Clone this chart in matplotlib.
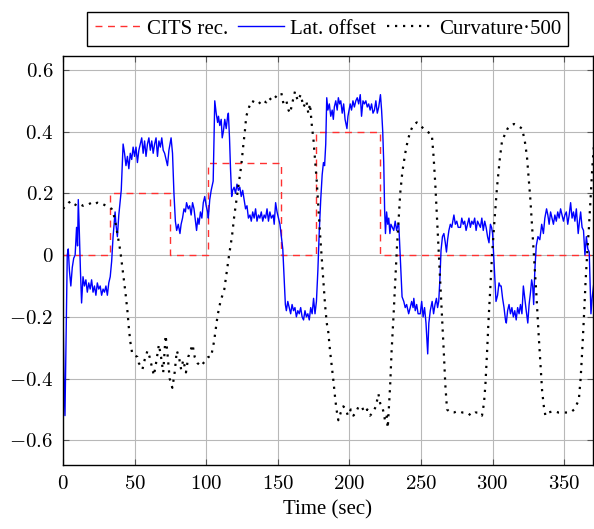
import numpy as np
import matplotlib
matplotlib.use('Agg')
import matplotlib.pyplot as plt

plt.rcParams['font.family'] = ['Liberation Serif', 'DejaVu Serif']
plt.rcParams['mathtext.fontset'] = 'cm'

# CITS recommendation (step signal)
cits_t = [0, 32.5, 32.5, 74.7, 74.7, 101.5, 101.5, 152, 152, 177, 177, 221.4, 221.4, 372]
cits_v = [0, 0, 0.2, 0.2, 0, 0, 0.3, 0.3, 0, 0, 0.4, 0.4, 0, 0]

# lateral offset
lat_t = [0, 0.7, 1.4, 2.2, 3.0, 3.7, 4.5, 5.5, 6.5, 7.5, 8.5, 9.5, 10.2, 10.7, 11.4, 12.2, 13,
         14, 15, 16, 17, 18, 19, 20, 21, 22, 23, 24, 25, 26, 27, 28, 29, 30, 31, 32, 33, 34, 35,
         36.4, 37, 38, 39, 40.7, 42, 43, 44, 45, 46, 47, 48, 49, 50, 51, 52, 53, 54, 55, 56, 57,
         58, 59, 60, 61, 62, 63, 64, 65, 66, 67, 68, 69, 70, 71, 72, 73, 74, 75.5, 76.5, 77.5,
         78.5, 79.4, 80.5, 81.7, 82.5, 83.5, 84.5, 85.5, 86.3, 87.5, 88.5, 89.5, 90.5, 91.5,
         92.5, 93.3, 94.2, 95, 96, 97, 98, 99, 100, 101, 101.5, 102.5, 103.5, 104.9, 106, 107,
         108, 108.6, 109.5, 110.5, 111.2, 112, 113, 114, 115, 115.5, 116.3, 117, 117.8, 118.5,
         119.5, 120.5, 121.5, 122.5, 123.5, 124.5, 125.5, 126.5, 127.5, 128.5, 129.5, 130.6,
         131.5, 132.5, 133.5, 134.5, 135.5, 136.5, 137.5, 138.5, 139.5, 140.5, 141.5, 142.5,
         143.5, 144.5, 145.5, 146.8, 147.5, 148.5, 149.5, 150.5, 151.5, 152.5, 153.5, 154.5,
         155.3, 156, 157, 158, 159, 160, 161, 162, 163, 164, 165, 166, 167, 168, 169, 170, 171,
         172, 173, 174, 175, 176, 177, 178, 179, 180, 181, 181.9, 182.7, 183.5, 184.2, 185,
         186, 187, 188, 188.8, 189.5, 190.5, 191.5, 192.3, 193.2, 194, 195, 196, 197, 198.3,
         199, 199.8, 200.6, 201.5, 202.5, 203.5, 204.5, 205.5, 206.5, 207.6, 208.5, 209.5,
         210.5, 211.5, 212.5, 213.5, 214.5, 215.5, 216.5, 217.5, 218.5, 219.5, 220.5, 221.7,
         222.5, 223.3, 224, 224.6, 225.2, 226, 226.8, 227.5, 228.3, 229, 230, 231, 232, 233,
         234, 234.5, 235.5, 236.8, 238, 239, 240, 241.4, 242.5, 243.5, 244.5, 245, 246, 247,
         248, 249.5, 250.5, 251.5, 252.5, 253.5, 254.7, 255.5, 256.5, 257.8, 258.8, 259.8,
         260.8, 261.6, 262.4, 263.2, 264, 265, 266, 267, 267.8, 268.6, 269.5, 270.5, 271.5,
         273, 274, 275, 276, 277.6, 278.5, 279.5, 280.5, 281.5, 282.5, 283.5, 284.5, 285.5,
         286.5, 287.5, 288.5, 289.5, 290.5, 291.5, 292.5, 293.5, 294.5, 295.5, 296.5, 297.5,
         298.5, 299.3, 300, 301, 302.4, 303.5, 304.5, 305.3, 306, 307, 308, 309, 309.6, 310.5,
         311.5, 312.5, 313.5, 314.5, 315.5, 316.5, 317.5, 318.5, 319.5, 320.5, 321.5, 322.5,
         323.5, 324.6, 325.5, 326.5, 327.3, 328, 328.7, 329.5, 330.5, 331.7, 333, 334.3, 335.5,
         336.5, 337.7, 338.6, 339.5, 340.5, 341.5, 342.5, 343.5, 344.5, 345.5, 346.5, 347.5,
         348.5, 349.5, 350.5, 351.5, 352.5, 353.5, 354.5, 355.5, 356.5, 357.5, 358.5, 359.8,
         360.7, 361.5, 362.5, 363.5, 364.5, 365.5, 366.5, 367.5, 368.7, 369.5, 371]
lat_v = [-0.15, -0.40, -0.52, -0.25, 0.0, 0.02, -0.05, -0.10, -0.04, -0.01, 0.0, 0.09, 0.03, 0.18,
         0.08, -0.05, -0.155, -0.07, -0.10, -0.08, -0.12, -0.09, -0.11, -0.08, -0.12, -0.10,
         -0.13, -0.09, -0.11, -0.10, -0.13, -0.11, -0.12, -0.10, -0.13, -0.09, -0.07, -0.02,
         0.06, 0.14, 0.10, 0.06, 0.13, 0.21, 0.36, 0.33, 0.29, 0.32, 0.28, 0.33, 0.31, 0.35,
         0.32, 0.35, 0.30, 0.34, 0.36, 0.38, 0.33, 0.37, 0.32, 0.36, 0.38, 0.34, 0.37, 0.33,
         0.36, 0.38, 0.32, 0.37, 0.35, 0.38, 0.34, 0.33, 0.31, 0.29, 0.34, 0.38, 0.33, 0.20,
         0.11, 0.08, 0.10, 0.07, 0.10, 0.12, 0.15, 0.14, 0.17, 0.15, 0.16, 0.13, 0.17, 0.15,
         0.11, 0.08, 0.12, 0.10, 0.14, 0.12, 0.17, 0.19, 0.16, 0.14, 0.12, 0.18, 0.21, 0.24,
         0.50, 0.46, 0.43, 0.45, 0.42, 0.44, 0.38, 0.40, 0.44, 0.41, 0.45, 0.46, 0.38, 0.28,
         0.19, 0.21, 0.22, 0.20, 0.23, 0.21, 0.22, 0.19, 0.21, 0.18, 0.15, 0.16, 0.12, 0.13,
         0.11, 0.14, 0.12, 0.15, 0.11, 0.13, 0.12, 0.14, 0.11, 0.13, 0.12, 0.15, 0.11, 0.14,
         0.12, 0.13, 0.10, 0.17, 0.14, 0.12, 0.10, 0.06, 0.02, -0.08, -0.16, -0.18, -0.15,
         -0.17, -0.19, -0.16, -0.18, -0.17, -0.20, -0.18, -0.19, -0.17, -0.20, -0.21, -0.18,
         -0.20, -0.19, -0.21, -0.17, -0.19, -0.14, -0.19, -0.15, -0.05, 0.08, 0.18, 0.26,
         0.30, 0.29, 0.36, 0.51, 0.47, 0.49, 0.45, 0.47, 0.44, 0.48, 0.50, 0.47, 0.51, 0.49,
         0.50, 0.46, 0.49, 0.44, 0.41, 0.45, 0.47, 0.49, 0.47, 0.50, 0.48, 0.50, 0.51, 0.49,
         0.52, 0.45, 0.50, 0.49, 0.50, 0.48, 0.49, 0.47, 0.49, 0.46, 0.47, 0.50, 0.46, 0.48,
         0.52, 0.47, 0.40, 0.30, 0.15, 0.07, 0.14, 0.10, 0.12, 0.07, 0.10, 0.09, 0.08, 0.11,
         0.08, 0.10, 0.10, 0.0, -0.135, -0.15, -0.17, -0.16, -0.19, -0.17, -0.15, -0.17,
         -0.14, -0.18, -0.16, -0.19, -0.19, -0.15, -0.20, -0.17, -0.22, -0.32, -0.22, -0.18,
         -0.15, -0.19, -0.16, -0.14, -0.17, -0.15, -0.08, 0.015, 0.06, 0.07, 0.04, 0.01,
         0.05, 0.08, 0.10, 0.09, 0.13, 0.10, 0.11, 0.09, 0.09, 0.12, 0.10, 0.11, 0.08, 0.10,
         0.12, 0.09, 0.11, 0.10, 0.12, 0.08, 0.11, 0.10, 0.09, 0.12, 0.08, 0.11, 0.09, 0.06,
         0.04, 0.10, 0.09, 0.07, -0.02, -0.15, -0.13, -0.09, -0.10, -0.10, -0.14, -0.17,
         -0.21, -0.22, -0.18, -0.16, -0.19, -0.17, -0.20, -0.18, -0.21, -0.17, -0.19, -0.16,
         -0.19, -0.10, -0.14, -0.18, -0.22, -0.16, -0.12, -0.08, -0.10, -0.16, -0.05, 0.03,
         0.06, 0.05, 0.10, 0.07, 0.12, 0.15, 0.13, 0.10, 0.14, 0.12, 0.10, 0.13, 0.11, 0.14,
         0.12, 0.15, 0.13, 0.11, 0.13, 0.14, 0.10, 0.13, 0.17, 0.12, 0.14, 0.11, 0.15, 0.07,
         0.11, 0.14, 0.09, 0.08, 0.0, 0.06, 0.02, 0.01, -0.19, -0.14, -0.08]

# curvature scaled by 500
curv_t = [0, 2, 4, 6, 8, 10, 12, 14, 16, 18, 20, 22, 24, 26, 28, 30, 32, 34, 35, 36.5, 38, 40,
          42, 43.6, 45, 46, 47, 48.4, 50, 52, 53, 55.5, 57, 59, 60.5, 62, 63.5, 65, 67, 68.5,
          70, 71.7, 73, 74.5, 76.4, 78, 79.5, 81, 82.5, 84, 85.9, 87.5, 89, 90.5, 92, 94, 96.4,
          98, 100, 101.5, 103.4, 105.5, 108, 110, 112.7, 114.5, 116, 118, 119.7, 121.5, 123,
          124.5, 125.8, 127, 128, 130, 131.8, 134, 136, 138, 140, 142, 144, 146, 148, 150,
          152.5, 154, 156, 157.5, 158.6, 160, 162, 164, 166, 168, 170, 171.3, 172.5, 173.7,
          175, 176, 177.2, 178.4, 179.5, 180.7, 181.9, 183, 184.2, 185.3, 186.5, 188, 188.8,
          190, 191, 192.3, 194, 195.8, 197.5, 199, 201, 202.8, 204.5, 206.5, 208.6, 210.5,
          212.5, 214.4, 216.5, 218.5, 220.3, 221.5, 223, 224.9, 226, 226.8, 228.5, 229.5,
          230.8, 232, 233.1, 234.3, 235.5, 237, 239, 240.7, 242.5, 244.5, 247.1, 249.5, 251.8,
          254.5, 257.6, 258.8, 260, 261.2, 262.4, 263.5, 264.7, 266, 267, 268.2, 270.5, 272.9,
          276, 279, 282.2, 285, 288, 290.5, 292.6, 294, 295, 296.2, 297.3, 298.5, 299.6, 301.3,
          303.1, 305, 306.6, 308.5, 310.5, 312.5, 315, 317.5, 320.6, 322.5, 324, 325.2, 326.4,
          327.5, 328.7, 330.5, 332.2, 333.5, 334.6, 335.8, 336.9, 339, 342.8, 346, 350, 354.4,
          357, 360.2, 361.5, 362.6, 363.8, 364.9, 366, 367.3, 368.5, 369.6, 371, 372]
curv_v = [0.15, 0.16, 0.17, 0.175, 0.165, 0.16, 0.165, 0.16, 0.165, 0.165, 0.17, 0.165, 0.17,
          0.165, 0.165, 0.16, 0.155, 0.15, 0.14, 0.11, 0.07, 0.015, -0.06, -0.12, -0.18, -0.235,
          -0.28, -0.32, -0.325, -0.33, -0.35, -0.37, -0.34, -0.31, -0.33, -0.36, -0.39, -0.35,
          -0.29, -0.33, -0.38, -0.26, -0.32, -0.40, -0.43, -0.38, -0.31, -0.33, -0.37, -0.34,
          -0.38, -0.33, -0.31, -0.29, -0.33, -0.35, -0.36, -0.35, -0.34, -0.33, -0.33, -0.28,
          -0.195, -0.15, -0.11, -0.05, 0.0, 0.06, 0.13, 0.19, 0.24, 0.29, 0.35, 0.40, 0.45,
          0.48, 0.50, 0.495, 0.50, 0.49, 0.50, 0.495, 0.51, 0.50, 0.51, 0.52, 0.525, 0.49, 0.50,
          0.47, 0.46, 0.49, 0.53, 0.50, 0.52, 0.48, 0.50, 0.46, 0.49, 0.425, 0.37, 0.31, 0.24,
          0.15, 0.07, -0.01, -0.09, -0.16, -0.22, -0.25, -0.31, -0.37, -0.405, -0.46, -0.50,
          -0.535, -0.51, -0.49, -0.50, -0.52, -0.50, -0.52, -0.51, -0.49, -0.49, -0.51, -0.50,
          -0.52, -0.51, -0.49, -0.45, -0.48, -0.49, -0.535, -0.52, -0.56, -0.42, -0.31, -0.20,
          -0.09, 0.015, 0.11, 0.20, 0.27, 0.33, 0.37, 0.40, 0.42, 0.43, 0.42, 0.41, 0.40, 0.39,
          0.32, 0.23, 0.12, 0.015, -0.09, -0.20, -0.32, -0.42, -0.50, -0.51, -0.51, -0.505,
          -0.51, -0.51, -0.52, -0.51, -0.51, -0.52, -0.48, -0.42, -0.31, -0.20, -0.10, 0.0,
          0.11, 0.22, 0.31, 0.37, 0.39, 0.41, 0.42, 0.425, 0.42, 0.41, 0.37, 0.32, 0.25, 0.18,
          0.10, 0.01, -0.12, -0.26, -0.36, -0.44, -0.49, -0.52, -0.51, -0.505, -0.51, -0.51,
          -0.51, -0.50, -0.47, -0.40, -0.31, -0.20, -0.09, 0.0, 0.09, 0.19, 0.28, 0.37, 0.44]

x_ticks = [0, 50, 100, 150, 200, 250, 300, 350]
y_ticks = [-0.6, -0.4, -0.2, 0, 0.2, 0.4, 0.6]
y_labels = ['$-0.6$', '$-0.4$', '$-0.2$', '$0$', '$0.2$', '$0.4$', '$0.6$']

fig = plt.figure(figsize=(5.94, 5.29), dpi=100)
ax = fig.add_axes([0.106, 0.121, 0.892, 0.773])

ax.plot(cits_t, cits_v, color='#ff3030', linestyle=(0, (5, 4)), linewidth=1.0, label='CITS rec.')
ax.plot(lat_t, lat_v, color='#0000ff', linewidth=1.0, label='Lat. offset')
ax.plot(curv_t, curv_v, color='black', linestyle=(0, (1, 2.6)), linewidth=1.6,
        label='Curvature·500')

ax.set_xlim(0, 370)
ax.set_ylim(-0.68, 0.645)
ax.set_xticks(x_ticks)
ax.set_xticklabels(['$%d$' % v for v in x_ticks])
ax.set_yticks(y_ticks)
ax.set_yticklabels(y_labels)
ax.grid(True, color='#b8b8b8', linewidth=0.8)
ax.set_axisbelow(True)
ax.tick_params(direction='in', top=True, right=True, labelsize=15, length=4, color='#555555')
ax.tick_params(axis='y', pad=7)
ax.tick_params(axis='x', pad=7)
for s in ax.spines.values():
    s.set_linewidth(1.0)
ax.set_xlabel('Time (sec)', fontsize=15, labelpad=5)

leg = ax.legend(loc='lower center', bbox_to_anchor=(0.5, 1.025), ncol=3, fontsize=15,
                frameon=True, fancybox=False, edgecolor='black', framealpha=1,
                handlelength=2.2, handletextpad=0.3, columnspacing=0.5,
                borderpad=0.35, borderaxespad=0)
leg.get_frame().set_linewidth(1.0)

fig.savefig('out.png', dpi=100)
